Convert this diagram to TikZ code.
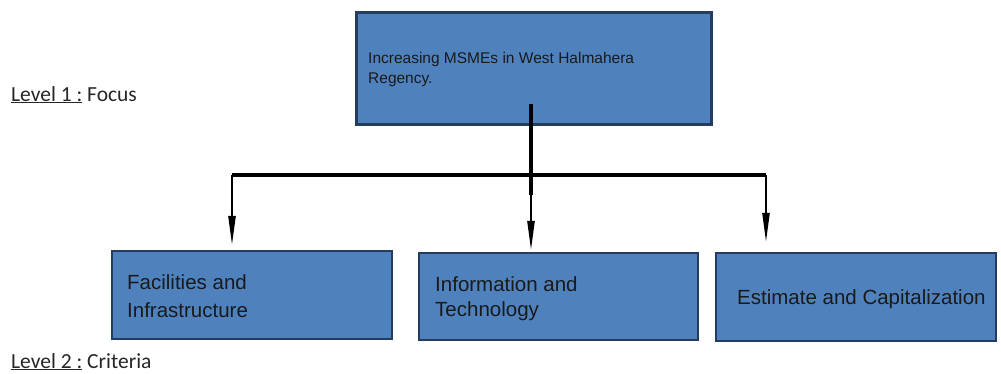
\documentclass[tikz,border=0pt]{standalone}
\usepackage{fontspec}
\setmainfont{Liberation Sans}
\newfontfamily\calib{Carlito}
\usetikzlibrary{arrows.meta}
\definecolor{boxfill}{HTML}{4F81BD}
\definecolor{boxline}{HTML}{233C5F}
\definecolor{txt}{HTML}{1A1A1A}
\definecolor{lvl}{HTML}{262626}
\tikzset{
  box/.style={draw=boxline, fill=boxfill, line width=2.5pt, inner sep=0pt},
  toptext/.style={anchor=base west, inner sep=0pt, text=txt, font=\fontsize{15.5}{18}\selectfont},
  crittext/.style={anchor=base west, inner sep=0pt, text=txt, font=\fontsize{20.5}{24}\selectfont},
  lvltext/.style={anchor=base west, inner sep=0pt, text=lvl, font=\calib\fontsize{21.5}{25}\selectfont},
  bar/.style={line width=4.5pt, black},
  arr/.style={line width=2.5pt, black, -{Triangle[length=30pt,width=7pt]}}
}
\begin{document}
\begin{tikzpicture}[x=1pt,y=-1pt]
\useasboundingbox (0,0) rectangle (1001,373);
% boxes
\node[box, minimum width=355pt, minimum height=112pt] (focus) at (534,68.5) {};
\node[box, minimum width=280pt, minimum height=88pt] (c1) at (252,295) {};
\node[box, minimum width=279pt, minimum height=87pt] (c2) at (558.5,296.5) {};
\node[box, minimum width=280pt, minimum height=88pt] (c3) at (856,297) {};
% texts
\node[toptext] (f1) at (368,63) {Increasing MSMEs in West Halmahera};
\node[toptext] (f2) at (368,83) {Regency.};
\node[crittext] (a1) at (127,289) {Facilities and};
\node[crittext] (a2) at (127,317) {Infrastructure};
\node[crittext] (b1) at (435,291) {Information and};
\node[crittext] (b2) at (435,316) {Technology};
\node[crittext] (e1) at (737,304) {Estimate and Capitalization};
\node[lvltext] (l1) at (11,101) {\underline{Level 1 :} Focus};
\node[lvltext] (l2) at (11,368) {\underline{Level 2 :} Criteria};
% connectors
\coordinate (stub) at (531,104);
\coordinate (stubend) at (531,195);
\coordinate (lj) at (232,175);
\coordinate (rj) at (766,175);
\draw[bar] (stub) -- (stubend);
\draw[bar] (lj) -- (rj);
\draw[arr, shorten >=4pt] (lj) -- (lj |- c1.north);
\draw[arr, shorten >=1pt] (stubend) -- (stubend |- c2.north);
\draw[arr, shorten >=9pt] (rj) -- (rj |- c3.north);
\end{tikzpicture}
\end{document}
